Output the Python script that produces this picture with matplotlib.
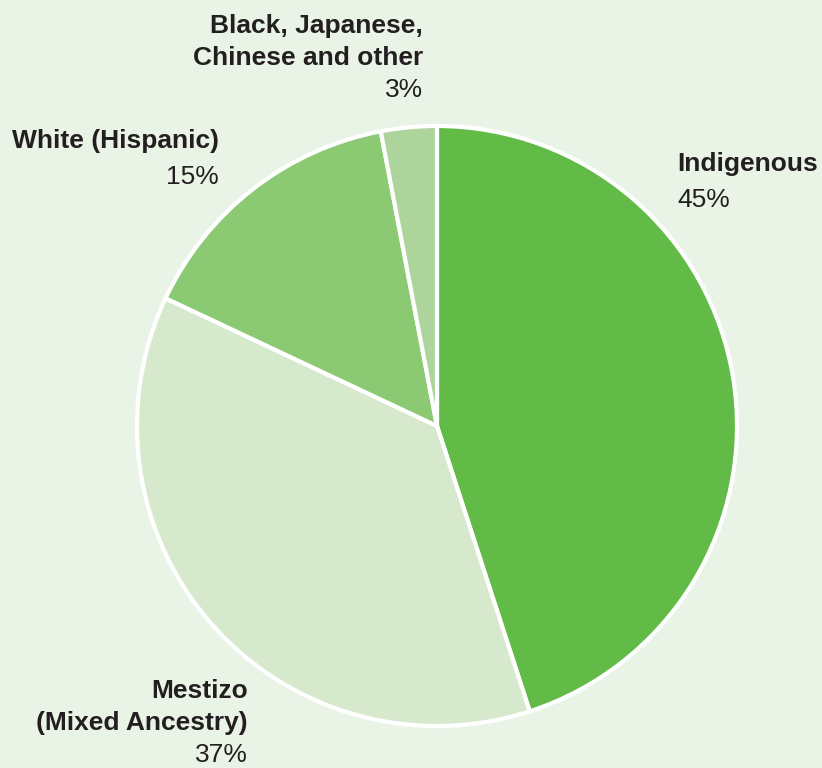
import matplotlib
matplotlib.use("Agg")
import matplotlib.pyplot as plt

categories = ["Indigenous", "Mestizo\n(Mixed Ancestry)", "White (Hispanic)", "Black, Japanese,\nChinese and other"]
values = [45, 37, 15, 3]
colors = ["#62bb46", "#d6e9cc", "#8cc973", "#acd49b"]

# label anchor (x, first baseline y in pixels from top), alignment
label_pos = [(677, 171, "left"), (248, 698, "right"), (219, 148, "right"), (423, 33, "right")]

W, H = 822, 768
fig = plt.figure(figsize=(W / 100, H / 100), dpi=100)
bg = "#eaf4e6"
fig.patch.set_facecolor(bg)
ax = fig.add_axes([0, 0, 1, 1])
ax.set_facecolor(bg)
ax.set_xlim(0, W)
ax.set_ylim(0, H)
ax.set_aspect("equal")
ax.axis("off")

ax.pie(values, colors=colors, startangle=90, counterclock=False,
       center=(437, H - 426), radius=300,
       wedgeprops=dict(edgecolor="white", linewidth=3.0))
ax.set_xlim(0, W)
ax.set_ylim(0, H)

fam = ["Liberation Sans", "DejaVu Sans"]
tc = "#231f20"
fs = 19
lh = 32
for cat, v, (x, y0, ha) in zip(categories, values, label_pos):
    lines = cat.split("\n")
    y = y0
    for ln in lines:
        ax.text(x, H - y, ln, ha=ha, va="baseline", fontsize=fs, fontweight="bold",
                color=tc, family=fam)
        y += lh
    if len(lines) == 1:
        y += 4
    ax.text(x, H - y, f"{v}%", ha=ha, va="baseline", fontsize=fs, color=tc, family=fam)

fig.savefig("out.png", dpi=100, facecolor=bg)
